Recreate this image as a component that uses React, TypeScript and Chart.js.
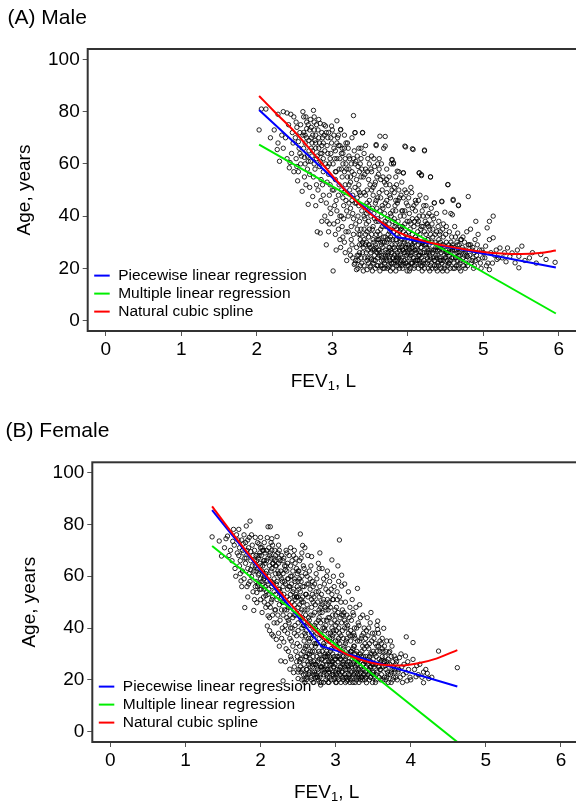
import React, { useEffect, useRef } from 'react';
import { Chart, registerables } from 'chart.js';
Chart.register(...registerables);

const FONT = '"Liberation Sans", Arial, Helvetica, sans-serif';

const xTicks = [0, 1, 2, 3, 4, 5, 6];
const yTicks = [0, 20, 40, 60, 80, 100];
const legendLabels = ['Piecewise linear regression', 'Multiple linear regression', 'Natural cubic spline'];
const lineColors = ['#0000ff', '#00ee00', '#ff0000'];
const panelTitles = ['(A) Male', '(B) Female'];
const yTitle = 'Age, years';

// Fitted curves (FEV1 L, age years)
const malePiecewise: [number, number][] = [[2.03, 80.6], [3.85, 32], [5.96, 20.3]];
const maleLinear: [number, number][] = [[2.03, 67.4], [5.96, 2.7]];
const maleSpline: [number, number][] = [
  [2.03, 86], [2.25, 79.5], [2.5, 72.3], [2.75, 64], [3.0, 55.5], [3.25, 47.5], [3.5, 41], [3.75, 35.7],
  [4.0, 32.3], [4.25, 30.2], [4.5, 28.6], [4.75, 27.3], [5.0, 26.3], [5.25, 25.7], [5.5, 25.5], [5.75, 25.9], [5.96, 26.8],
];
const femalePiecewise: [number, number][] = [[1.355, 85.5], [2.81, 33], [4.62, 17.4]];
const femaleLinear: [number, number][] = [[1.355, 71.7], [4.62, -4.0]];
const femaleSpline: [number, number][] = [
  [1.355, 87], [1.6, 77.5], [1.85, 68.3], [2.1, 59.5], [2.35, 51], [2.6, 42.8], [2.85, 35.8], [3.1, 30.6],
  [3.35, 27.6], [3.6, 25.9], [3.85, 25.5], [4.1, 26.4], [4.35, 28.3], [4.62, 31.5],
];

const malePoints: [number, number][] = [
  [2.03,73],[2.06,81],[2.12,81],[2.23,73],[2.28,79],[2.28,68],[2.27,65.5],[2.18,70],[2.3,61],
  [2.35,80],[2.40,79.5],[2.45,79],[2.49,78],[2.35,66],[2.43,58.5],[2.40,62],[2.46,64],[2.38,70],[2.47,72],[2.42,75],[2.48,68],[2.33,71],[2.44,60.5],[2.49,57],
  [2.51,70],[2.52,62],[2.53,74],[2.54,53.5],[2.55,57],[2.56,66],[2.57,72],[2.58,60],[2.59,63],[2.52,76],[2.55,68.5],[2.58,75],[2.6,49.5],[2.57,64],[2.53,59],
  [2.61,80],[2.62,72],[2.63,62.5],[2.64,68],[2.65,78],[2.66,70],[2.67,58],[2.68,44.5],[2.68,75],[2.69,65],[2.62,66],[2.64,60],[2.66,73.5],[2.67,63],[2.69,69],[2.63,55],[2.65,52],[2.61,71],[2.68,61],[2.7,56],
  [2.71,77],[2.72,70],[2.73,63],[2.74,47.5],[2.75,80.5],[2.76,73],[2.77,58],[2.78,66],[2.79,52],[2.71,61],[2.73,68],[2.75,55],[2.76,76],[2.78,71],[2.79,62],[2.72,74],[2.74,65],[2.77,69],[2.7,51],[2.8,34],[2.78,44],[2.76,60],[2.79,75],
  [2.81,73],[2.82,66],[2.83,59],[2.84,75.5],[2.85,54],[2.86,38],[2.87,70],[2.88,62],[2.89,75],[2.84,33.5],[2.81,50],[2.83,68],[2.85,46],[2.86,64],[2.88,57],[2.89,71],[2.82,77],[2.87,52],[2.9,40],[2.84,61],[2.86,72],[2.88,48],
  [2.91,74.5],[2.92,29],[2.93,67],[2.94,59],[2.95,34],[2.96,37],[2.97,52],[2.98,64],[2.99,74.5],[2.92,45],[2.94,70],[2.95,56],[2.96,48],[2.97,62],[2.98,41],[2.91,60],[2.93,53],[2.99,68],[3.0,50],[2.95,72],[2.97,43],[2.93,38],
  [3.01,19],[3.02,71],[3.03,62],[3.04,54],[3.05,46],[3.06,76.5],[3.07,38],[3.08,67],[3.09,58],[3.1,31],[3.02,50],[3.04,65],[3.05,27],[3.06,42],[3.07,70],[3.08,35],[3.09,52],[3.01,60],[3.03,44],[3.1,62],[3.05,57],[3.08,48],[3.04,33],[3.06,68],[3.1,40],[3.02,37],
  [3.11,73],[3.12,64],[3.13,55],[3.14,47],[3.15,39],[3.16,30],[3.17,26],[3.18,68],[3.19,58],[3.12,50],[3.13,36],[3.14,60],[3.15,44],[3.16,71],[3.17,52],[3.18,34],[3.19,42],[3.11,28],[3.13,66],[3.15,49],[3.17,62],[3.19,23],[3.2,55],[3.12,40],[3.16,57],[3.18,46],[3.14,32],
  [3.21,66],[3.22,58],[3.23,50],[3.24,43],[3.25,36],[3.26,29],[3.27,24],[3.28,78.5],[3.29,21.5],[3.3,72],[3.22,45],[3.23,62],[3.24,53],[3.25,31],[3.26,70],[3.27,48],[3.28,39],[3.29,56],[3.21,34],[3.23,27],[3.25,60],[3.27,41],[3.29,65],[3.22,52],[3.24,25],[3.26,46],[3.28,33],[3.3,51],[3.21,40],[3.3,22],
  [3.31,61],[3.32,54],[3.33,47],[3.34,40],[3.35,33],[3.36,26],[3.37,21],[3.38,66],[3.39,58],[3.4,72],[3.31,37],[3.32,28],[3.33,63],[3.34,50],[3.35,44],[3.36,57],[3.37,31],[3.38,24],[3.39,42],[3.31,23],[3.33,35],[3.35,52],[3.37,48],[3.39,29],[3.32,45],[3.34,20],[3.36,38],[3.38,55],[3.4,30],[3.35,66],[3.33,25],[3.37,60],
  [3.41,19],[3.42,64],[3.43,56],[3.44,48],[3.45,41],[3.46,34],[3.47,27],[3.48,22],[3.49,60],[3.5,52],[3.41,44],[3.42,31],[3.43,24],[3.44,58],[3.45,37],[3.46,50],[3.47,42],[3.48,29],[3.49,35],[3.41,55],[3.43,39],[3.45,26],[3.47,62],[3.49,46],[3.42,21],[3.44,33],[3.46,23],[3.48,54],[3.5,28],[3.44,67],[3.46,45],[3.48,38],[3.5,20.5],[3.42,49],
  [3.51,58],[3.52,50],[3.53,43],[3.54,36],[3.55,30],[3.56,25],[3.57,20],[3.58,67],[3.59,55],[3.6,47],[3.51,40],[3.52,33],[3.53,27],[3.54,22],[3.55,62],[3.56,52],[3.57,45],[3.58,38],[3.59,31],[3.6,24],[3.51,26],[3.53,35],[3.55,41],[3.57,29],[3.59,21],[3.52,57],[3.54,48],[3.56,39],[3.58,28],[3.6,34],[3.53,19],[3.55,23],[3.57,53],[3.59,43],[3.6,60],
  [3.61,56],[3.62,49],[3.63,42],[3.64,35],[3.65,29],[3.66,24],[3.67,20],[3.68,66],[3.69,53],[3.7,45],[3.61,38],[3.62,31],[3.63,26],[3.64,21],[3.65,60],[3.66,50],[3.67,43],[3.68,37],[3.69,30],[3.7,25],[3.61,27],[3.63,33],[3.65,40],[3.67,28],[3.69,22],[3.62,58],[3.64,47],[3.66,36],[3.68,23],[3.7,32],[3.63,19],[3.65,25],[3.67,55],[3.69,41],[3.7,70.5],[3.62,27],
  [3.71,52],[3.72,46],[3.73,39],[3.74,33],[3.75,28],[3.76,23],[3.77,19],[3.78,60],[3.79,50],[3.8,42],[3.71,36],[3.72,30],[3.73,25],[3.74,21],[3.75,55],[3.76,48],[3.77,41],[3.78,35],[3.79,29],[3.8,24],[3.71,26],[3.73,31],[3.75,37],[3.77,27],[3.79,22],[3.72,54],[3.74,44],[3.76,34],[3.78,22],[3.8,31],[3.73,20],[3.75,24],[3.77,47],[3.79,61.5],[3.8,38],[3.76,28],
  [3.81,60],[3.82,51],[3.83,44],[3.84,37],[3.85,31],[3.86,26],[3.87,21],[3.88,57],[3.89,47],[3.9,40],[3.81,34],[3.82,28],[3.83,23],[3.84,19],[3.85,52],[3.86,45],[3.87,38],[3.88,32],[3.89,27],[3.9,22],[3.81,24],[3.83,29],[3.85,35],[3.87,25],[3.89,20],[3.82,49],[3.84,42],[3.86,33],[3.88,24],[3.9,30],[3.83,36],[3.85,21],[3.87,46],[3.89,34],[3.84,27],
  [3.91,48],[3.92,42],[3.93,36],[3.94,56.5],[3.95,30],[3.96,26],[3.97,22],[3.98,45],[3.99,38],[4.0,32],[3.91,28],[3.92,24],[3.93,20],[3.94,34],[3.95,40],[3.96,50],[3.97,29],[3.98,25],[3.99,21],[4.0,44],[3.91,35],[3.93,27],[3.95,23],[3.97,33],[3.99,19],[3.92,31],[3.94,22],[3.96,37],[3.98,28],[4.0,26],[3.93,42],[3.97,66.5],
  [4.01,47],[4.02,41],[4.03,35],[4.04,30],[4.05,26],[4.06,22],[4.07,65.5],[4.08,44],[4.09,38],[4.1,32],[4.01,28],[4.02,24],[4.03,20],[4.04,37],[4.05,49],[4.06,33],[4.07,28],[4.08,24],[4.09,21],[4.1,42],[4.01,34],[4.03,26],[4.05,22],[4.07,31],[4.09,27],[4.02,19],[4.04,25],[4.06,39],[4.08,30],[4.1,23],
  [4.11,45],[4.12,39],[4.13,34],[4.14,29],[4.15,56.5],[4.16,25],[4.17,21],[4.18,55.5],[4.19,42],[4.2,36],[4.11,31],[4.12,27],[4.13,23],[4.14,20],[4.15,40],[4.16,33],[4.17,28],[4.18,24],[4.19,30],[4.2,26],[4.11,22],[4.13,37],[4.15,25],[4.17,35],[4.19,19],[4.14,46],[4.16,30],[4.2,22],[4.12,31],
  [4.21,44],[4.22,65],[4.23,38],[4.24,33],[4.25,28],[4.26,24],[4.27,20],[4.28,41],[4.29,35],[4.3,55],[4.21,30],[4.22,26],[4.23,22],[4.24,47],[4.25,37],[4.26,31],[4.27,27],[4.28,23],[4.29,19],[4.3,33],[4.22,34],[4.24,25],[4.26,40],[4.28,29],[4.3,21],[4.23,29],[4.27,36],
  [4.31,43],[4.32,37],[4.33,32],[4.34,27],[4.35,45],[4.36,23],[4.37,20],[4.38,34],[4.39,29],[4.4,25],[4.31,22],[4.32,30],[4.33,26],[4.34,39],[4.35,21],[4.36,33],[4.37,28],[4.38,24],[4.39,19],[4.4,36],[4.33,35],[4.36,27],[4.38,41],[4.4,22],
  [4.41,31],[4.42,27],[4.43,23],[4.44,20],[4.45,45.5],[4.46,35],[4.47,29],[4.48,25],[4.49,21],[4.5,33],[4.41,38],[4.42,24],[4.43,30],[4.44,26],[4.45,22],[4.46,19],[4.47,37],[4.48,28],[4.49,41.5],[4.5,24],[4.43,34],[4.47,23],
  [4.51,30],[4.52,26],[4.53,52],[4.54,22],[4.55,34],[4.56,28],[4.57,41],[4.58,24],[4.59,40.5],[4.6,20],[4.51,36],[4.53,21],[4.55,25],[4.57,30],[4.59,27],[4.52,19],[4.56,23],[4.6,46],[4.58,32],[4.54,29],
  [4.61,28],[4.62,36],[4.63,24],[4.64,21],[4.65,30],[4.66,33.5],[4.67,44],[4.68,26],[4.69,22],[4.7,31],[4.62,20],[4.64,27],[4.66,23],[4.68,29],[4.7,19],[4.63,32],[4.67,25],[4.71,31],
  [4.72,28],[4.73,24],[4.74,21],[4.75,30],[4.76,26],[4.77,23],[4.78,34],[4.79,24.5],[4.8,47.5],[4.74,27],[4.76,20],[4.78,25],[4.8,29],[4.73,32],[4.77,22],
  [4.81,29],[4.82,25],[4.83,29],[4.84,22],[4.85,27],[4.86,24],[4.87,20],[4.88,26],[4.89,31],[4.9,23],[4.83,35],[4.86,28],[4.88,21],[4.9,38],
  [4.91,25],[4.93,33],[4.93,23.5],[4.95,27],[4.96,22],[4.98,27],[4.99,24],[4.92,29],[4.97,20],[5.0,26],
  [5.03,28.5],[5.05,35.5],[5.08,38],[5.08,31],[5.08,19.5],[5.13,40],[5.13,31.7],[5.18,23.4],[5.02,24],[5.06,22],[5.1,26],[5.15,25],[5.12,22],[5.17,27],[5.04,21],[5.2,24],
  [5.22,27.8],[5.32,27.8],[5.38,25.9],[5.42,22.1],[5.47,24.6],[5.47,20.2],[5.51,28.5],[5.61,24],[5.76,25.3],[5.83,23.4],[5.95,22.3],[5.25,24],[5.3,22.5],[5.35,24.5],[5.28,26],[5.55,23],[5.45,27],[5.65,26],[5.7,22],
  [3.63,70.6],[3.58,67.4],[3.7,66.8],[3.96,66.8],[4.06,65.8],[4.22,65.3],[4.18,55.9],[4.15,56.6],[4.3,55],[4.53,52.1],[4.67,44.2],[4.6,46.4],[4.45,45.7],[4.35,45.1],[3.94,56.6],[3.86,57.2],[3.79,61.7],[3.81,60.4],[3.4,71.9],[3.3,71.9],[3.11,73.2],
  [3.32,19.5],[3.34,23],[3.36,29],[3.38,35],[3.4,26],[3.42,35],[3.44,29],[3.46,19.5],[3.48,32],[3.5,24],
  [3.52,23.5],[3.54,31],[3.56,27],[3.58,33],[3.6,21],[3.62,25],[3.64,30],[3.66,21],[3.68,32],[3.7,27],
  [3.72,23],[3.74,26],[3.76,31],[3.78,26],[3.8,20],[3.82,25],[3.84,31],[3.86,23],[3.88,28],[3.9,25],
  [3.92,21],[3.94,27],[3.96,31],[3.98,22],[4.0,29],[4.02,27],[4.04,22],[4.06,29],[4.08,20],[4.1,27],
  [4.12,23],[4.14,25],[4.16,22],[4.18,28],[4.2,30],[4.22,20],[4.24,29],[4.26,22],[4.28,26],[4.3,24],
  [4.32,20],[4.34,24],[4.36,30],[4.38,21],[4.4,28],[4.42,33],[4.44,23],[4.46,27],[4.48,20],[4.5,27],
  [4.52,23],[4.54,26],[4.56,20],[4.58,28],[4.6,24],[4.62,27],[4.64,24],[4.66,29],[4.68,20],[4.7,23],
  [3.35,25],[3.45,30],[3.55,27.5],[3.65,23],[3.75,20.5],[3.85,24],[3.95,26],[4.05,28],[4.15,23],[4.25,26],[4.35,23],[4.45,29],[4.55,22],[4.65,26],[4.75,25],[4.85,23],
  [3.37,33],[3.47,24],[3.57,23],[3.67,30],[3.77,32],[3.87,22],[3.97,28],[4.07,24],[4.17,26],[4.27,31],[4.37,25],[4.47,32],[4.57,26],[4.67,21],[4.77,27],
  [3.39,22],[3.49,29],[3.59,26],[3.69,20],[3.79,26],[3.89,29],[3.99,24],[4.09,30],[4.19,21],[4.29,25],[4.39,27],[4.49,24],[4.59,29],[4.69,25],[4.79,21],
  [3.41,28],[3.51,21],[3.61,31],[3.71,24],[3.81,22],[3.91,23],[4.01,21],[4.11,26],[4.21,23],[4.31,27],[4.41,21],[4.51,26],[4.61,22],[4.71,27],
  [3.3,45],[3.36,49],[3.42,40],[3.48,44],[3.54,51],[3.6,39],[3.66,44],[3.72,49],[3.78,40],[3.84,46],[3.9,36],[3.96,42],[4.02,38],[4.08,36],[4.14,38],[4.2,40],[4.26,37],[4.32,40],[3.58,46],[3.7,38],[3.82,39],[3.94,47],[4.06,43],[4.18,36],
  [2.62,78],[2.66,76],[2.7,73],[2.74,71],[2.78,68],[2.82,70],[2.86,67],[2.9,65],[2.94,64],[2.98,70],[3.02,66],[3.06,62],[3.1,67],[3.14,64],[3.18,60],[3.22,63],[3.26,57],[3.3,60],[2.72,66],[2.8,63],[2.88,68],[2.96,60],[3.04,57],[3.12,58],[3.2,68],[3.28,62],[2.64,71],[2.76,78],[2.84,64],[2.92,72],[3.0,73],[3.08,71],[3.16,66],[3.24,55],[3.34,59],[3.38,62],[3.46,57],[3.52,63],[3.56,59],[3.64,54],[3.62,62],[3.72,58],[3.76,52],[3.84,55],[3.88,50],[3.92,53],[3.98,49],[4.04,51],[4.1,46],[4.16,48],[4.24,44],
];

const femalePoints: [number, number][] = [
  [1.355,75.2],[1.45,73.6],[1.48,67.8],[1.54,74.5],[1.56,75.5],[1.64,78.1],[1.6,70],[1.62,66],[1.58,68],[1.65,72],[1.68,76],[1.66,63],[1.69,69],[1.67,60],[1.7,74],[1.52,71],[1.63,73.5],
  [1.71,78.1],[1.72,71],[1.73,66],[1.74,58.2],[1.75,74],[1.76,62],[1.77,69],[1.78,76],[1.79,47.9],[1.8,65],[1.71,68],[1.73,61],[1.75,56],[1.77,72.5],[1.79,67],[1.72,64],[1.76,70],[1.78,59],[1.8,73],
  [1.81,79.4],[1.82,70],[1.83,63],[1.84,57],[1.85,75],[1.86,81.3],[1.87,66],[1.88,60],[1.89,72],[1.9,54],[1.81,67],[1.83,74],[1.85,61],[1.87,69.5],[1.89,64],[1.82,56],[1.84,71],[1.86,58],[1.88,76],[1.9,68],[1.83,52],[1.87,62.5],
  [1.91,46.8],[1.92,70],[1.93,64],[1.94,58],[1.95,53.7],[1.95,49.8],[1.96,73],[1.97,67],[1.98,61],[1.99,55],[2.0,71],[1.91,62],[1.93,75],[1.95,66],[1.97,57],[1.99,69],[1.92,51],[1.94,68],[1.96,63],[1.98,72.5],[2.0,59],[1.93,56],[1.97,60.5],[1.99,65],
  [2.01,68],[2.02,62],[2.03,57],[2.04,52],[2.05,73],[2.06,65],[2.07,48],[2.08,70],[2.09,40.8],[2.1,44.7],[2.01,55],[2.02,71],[2.03,64],[2.04,59],[2.05,50],[2.06,69],[2.07,61],[2.08,54],[2.09,74.9],[2.1,79.1],[2.02,46],[2.04,66],[2.06,56],[2.08,62],[2.1,67],[2.03,70],[2.05,60],[2.07,52.5],[2.09,58],[2.1,53],
  [2.11,71],[2.12,64],[2.13,79.1],[2.14,58],[2.15,37.6],[2.15,74.5],[2.16,52],[2.17,36.9],[2.18,67],[2.19,47],[2.2,61],[2.11,55],[2.12,44],[2.13,69],[2.14,50],[2.15,63],[2.16,72],[2.17,57],[2.18,42],[2.19,66],[2.2,53],[2.11,60],[2.13,48],[2.15,56],[2.17,65],[2.19,70],[2.12,39],[2.14,67],[2.16,45],[2.18,59],[2.2,68],[2.14,73],
  [2.21,35.6],[2.22,75.3],[2.23,62],[2.24,55],[2.25,49],[2.26,43],[2.27,27.3],[2.28,68],[2.29,58],[2.3,19.6],[2.21,64],[2.22,51],[2.23,45],[2.24,38],[2.25,70],[2.26,60],[2.27,53],[2.28,47],[2.29,40],[2.3,66],[2.21,57],[2.23,69],[2.25,33],[2.27,62],[2.29,50],[2.22,42],[2.24,65],[2.26,54],[2.28,36],[2.3,56],[2.24,72],[2.28,59],[2.3,45],
  [2.31,34.6],[2.32,64],[2.33,57],[2.34,50],[2.35,44],[2.36,38],[2.37,31],[2.38,68],[2.39,24.1],[2.4,60],[2.31,53],[2.32,47],[2.33,41],[2.34,70],[2.35,62],[2.36,55],[2.37,48],[2.38,42],[2.39,36],[2.4,29],[2.31,67],[2.33,27],[2.35,52],[2.37,59],[2.39,45],[2.32,39],[2.34,32],[2.36,65],[2.38,51],[2.4,40],[2.33,62.5],[2.37,43],[2.39,56],[2.4,71],
  [2.41,57],[2.42,50],[2.43,44],[2.44,22.8],[2.45,38],[2.46,65],[2.47,31],[2.48,27],[2.49,61],[2.5,20.5],[2.41,35],[2.42,66],[2.43,54],[2.44,47],[2.45,59],[2.46,41],[2.47,53],[2.48,63],[2.49,34],[2.5,48],[2.41,28],[2.43,62],[2.45,25],[2.47,45],[2.49,56],[2.42,40],[2.44,68],[2.46,51],[2.48,37],[2.5,42],[2.43,33],[2.45,52],[2.47,67],[2.49,29],[2.5,58],
  [2.51,55],[2.52,49],[2.53,76.3],[2.54,43],[2.55,37],[2.56,71.9],[2.57,31],[2.58,26],[2.59,71],[2.6,22],[2.51,62],[2.52,33],[2.53,46],[2.54,58],[2.55,40],[2.56,52],[2.57,64],[2.58,35],[2.59,47],[2.6,29],[2.51,24],[2.53,28],[2.55,60],[2.57,50],[2.59,38],[2.52,66],[2.54,23],[2.56,44],[2.58,56],[2.6,61],[2.53,54],[2.55,20],[2.57,41],[2.59,32],[2.6,45],[2.54,67],
  [2.61,53],[2.62,47],[2.63,42],[2.64,36],[2.65,30],[2.66,25],[2.67,21],[2.68,67.6],[2.69,58],[2.7,50],[2.61,39],[2.62,33],[2.63,27],[2.64,22],[2.65,62],[2.66,55],[2.67,45],[2.68,38],[2.69,31],[2.7,26],[2.61,20],[2.62,60],[2.63,52],[2.64,44],[2.65,35],[2.66,28],[2.67,64],[2.68,48],[2.69,23],[2.7,40],[2.62,24],[2.64,57],[2.66,41],[2.68,33],[2.7,19],[2.63,68],[2.67,36],[2.69,53],[2.61,29],
  [2.71,52],[2.72,46],[2.73,40],[2.74,34],[2.75,29],[2.76,24],[2.77,20],[2.78,63],[2.79,56],[2.8,48],[2.71,37],[2.72,31],[2.73,26],[2.74,22],[2.75,59],[2.76,50],[2.77,43],[2.78,36],[2.79,30],[2.8,25],[2.71,19],[2.72,57],[2.73,49],[2.74,42],[2.75,34],[2.76,27],[2.77,65],[2.78,44],[2.79,21],[2.8,38],[2.72,23],[2.74,61],[2.76,39],[2.78,28],[2.8,18],[2.73,33],[2.77,54],[2.79,46],[2.71,27],[2.75,21],[2.79,69],
  [2.81,53],[2.82,46],[2.83,40],[2.84,34],[2.85,29],[2.86,24],[2.87,20],[2.88,60],[2.89,51],[2.9,44],[2.81,37],[2.82,31],[2.83,26],[2.84,22],[2.85,57],[2.86,48],[2.87,41],[2.88,35],[2.89,29],[2.9,24],[2.81,19],[2.82,63],[2.83,50],[2.84,43],[2.85,36],[2.86,30],[2.87,55],[2.88,26],[2.89,21],[2.9,38],[2.82,25],[2.84,59],[2.86,39],[2.88,31],[2.9,19],[2.83,33],[2.87,47],[2.89,62],[2.81,28],[2.85,23],[2.9,54],
  [2.91,50],[2.92,44],[2.93,38],[2.94,32],[2.95,66.3],[2.96,27],[2.97,22],[2.98,56],[2.99,47],[3.0,41],[2.91,35],[2.92,29],[2.93,24],[2.94,20],[2.95,53],[2.96,45],[2.97,39],[2.98,33],[2.99,28],[3.0,23],[2.91,19],[2.92,58],[2.93,48],[2.94,42],[2.95,36],[2.96,30],[2.97,60],[2.98,25],[2.99,21],[3.0,35],[2.92,26],[2.94,55],[2.96,37],[2.98,29],[3.0,19],[2.93,31],[2.97,51],[2.99,43],[2.91,23],[2.95,26],
  [3.01,48],[3.02,42],[3.03,64],[3.04,36],[3.05,74],[3.06,30],[3.07,25],[3.08,60.4],[3.08,56.2],[3.09,21],[3.1,45],[3.01,39],[3.02,33],[3.03,27],[3.04,23],[3.05,52],[3.06,44],[3.07,37],[3.08,31],[3.09,26],[3.1,20],[3.01,19],[3.02,54],[3.03,46],[3.04,40],[3.05,34],[3.06,28],[3.07,50],[3.09,39],[3.1,32],[3.02,24],[3.04,58],[3.06,22],[3.08,42],[3.1,27],[3.03,35],[3.07,19],[3.05,29],[3.09,47],
  [3.11,46],[3.12,40],[3.13,34],[3.14,29],[3.15,24],[3.16,20],[3.17,54],[3.18,44],[3.19,37],[3.2,31],[3.11,26],[3.12,22],[3.13,50],[3.14,42],[3.15,36],[3.16,30],[3.17,25],[3.18,21],[3.19,48],[3.2,26],[3.11,33],[3.13,19],[3.15,45],[3.17,38],[3.19,22],[3.12,57],[3.14,35],[3.16,41],[3.18,27],[3.2,39],[3.13,28],[3.17,32],[3.19,30],[3.15,19.5],
  [3.21,43],[3.22,37],[3.23,32],[3.24,27],[3.25,23],[3.26,19],[3.27,48],[3.28,40],[3.29,55.3],[3.3,29],[3.21,25],[3.22,21],[3.23,46],[3.24,38],[3.25,33],[3.26,28],[3.27,24],[3.28,20],[3.29,35],[3.3,42],[3.21,31],[3.23,19],[3.25,40],[3.27,30],[3.29,22],[3.22,51],[3.24,33],[3.26,36],[3.28,26],[3.3,21],[3.24,45],[3.28,31],
  [3.31,41],[3.32,35],[3.33,30],[3.34,25],[3.35,21],[3.36,45],[3.37,38],[3.38,32],[3.39,27],[3.4,23],[3.31,19],[3.32,28],[3.33,44],[3.34,36],[3.35,31],[3.36,26],[3.37,22],[3.38,40],[3.39,34],[3.4,29],[3.31,24],[3.33,20],[3.35,37],[3.37,29],[3.39,20],[3.32,49],[3.36,33],[3.38,24],[3.4,36],[3.34,21],
  [3.41,39],[3.42,33],[3.43,28],[3.44,24],[3.45,20],[3.46,42],[3.47,46],[3.48,30],[3.49,26],[3.5,22],[3.41,18.9],[3.42,27],[3.43,37],[3.44,32],[3.45,29],[3.46,25],[3.47,21],[3.48,35],[3.49,38],[3.5,31],[3.43,22],[3.45,34],[3.47,27],[3.49,19],[3.44,40],[3.46,21],[3.5,26],[3.42,44],
  [3.51,36],[3.52,30],[3.53,26],[3.54,22],[3.55,41],[3.56,42.7],[3.56,39.5],[3.57,33],[3.58,28],[3.59,24],[3.6,20],[3.51,25],[3.52,21],[3.53,34],[3.54,29],[3.55,23],[3.57,38],[3.58,21],[3.59,31],[3.6,27],[3.53,19],[3.55,31],[3.57,25],[3.59,35],[3.52,38],
  [3.61,34],[3.62,29],[3.63,25],[3.64,39.9],[3.65,21],[3.66,25.4],[3.67,31],[3.68,27],[3.69,23],[3.7,19],[3.61,22],[3.62,36],[3.63,31],[3.64,27],[3.65,33],[3.66,29],[3.67,20],[3.68,35],[3.69,26],[3.71,30.5],[3.63,20],[3.67,24],[3.7,28],[3.61,27.5],
  [3.72,26],[3.73,22],[3.74,29],[3.75,33],[3.76,20],[3.77,25],[3.78,29.2],[3.79,23],[3.8,21],[3.72,31],[3.74,19],[3.76,27],[3.78,24],[3.8,26],[3.73,35],[3.77,21],[3.75,24],
  [3.81,27],[3.83,23],[3.85,28.6],[3.86,21],[3.88,25],[3.9,22],[3.93,29.2],[3.94,36.6],[3.94,22.8],[3.95,19.6],[3.82,20],[3.87,30],[3.91,26],[3.97,24],[3.99,21],[3.84,24],[3.89,19],[3.96,27],
  [4.03,34.4],[4.03,27.9],[4.07,21.2],[4.17,23],[4.17,18.9],[4.24,20.5],[4.37,31.1],[4.62,24.7],[4.05,24],[4.1,22],[4.12,26],[4.2,24],[4.15,21],[4.0,20],[4.08,25.5],[4.22,22.5],[4.28,21],
  [2.5,23],[2.52,27],[2.54,30],[2.56,24],[2.58,20],[2.6,33],[2.62,21],[2.64,26],[2.66,31],[2.68,20],[2.7,29],[2.72,34],[2.74,26],[2.76,21],[2.78,31],[2.8,22],[2.82,28],[2.84,19],[2.86,27],[2.88,22],[2.9,30],[2.92,21],[2.94,27],[2.96,23],[2.98,20],[3.0,28],[3.02,29],[3.04,20],[3.06,25],[3.08,23],[3.1,29],[3.12,25],[3.14,21],[3.16,27],[3.18,24],[3.2,20],[3.22,28],[3.24,22],[3.26,25],[3.28,23],[3.3,26],[3.32,22],[3.34,29],[3.36,20],[3.38,28],[3.4,21],
  [2.55,28],[2.65,23],[2.75,25],[2.85,33],[2.95,22],[3.05,24],[3.15,26],[3.25,30],[3.35,24],[3.45,23],
  [2.57,22],[2.67,27],[2.77,23],[2.87,29],[2.97,25],[3.07,28],[3.17,22],[3.27,21],[3.37,26],[3.47,25],
  [2.53,25],[2.63,30],[2.73,21],[2.83,24],[2.93,28],[3.03,21],[3.13,24],[3.23,26],[3.33,23],[3.43,26],
  [2.59,19],[2.69,25],[2.79,19],[2.89,24],[2.99,26],[3.09,23],[3.19,19],[3.29,27],[3.39,22],[3.49,23],
  [2.61,24],[2.71,22],[2.81,25],[2.91,27],[3.01,22],[3.11,21],[3.21,23],[3.31,28],[3.41,25],[3.51,23],
  [2.45,45],[2.5,39],[2.55,50],[2.6,37],[2.65,43],[2.7,45],[2.75,38],[2.8,42],[2.85,40],[2.9,47],[2.95,40],[3.0,45],[3.05,38],[3.1,36],[3.15,40],[3.2,35],[3.25,37],[2.62,49],[2.72,41],[2.82,49],[2.92,36],[3.02,51],[3.12,43],[2.48,52],[2.58,41],[2.68,51],[2.78,47],[2.88,43],[2.98,38],[3.08,45],
  [1.92,66],[1.94,62],[1.96,56],[1.98,68],[2.0,64],[2.02,58],[2.04,70],[2.06,60],[2.08,66],[2.1,57],[2.12,68],[2.14,62],[2.16,65],[2.18,54],[2.2,64],[2.22,58],[2.24,61],[2.26,66],[2.28,52],[2.3,61],[2.32,58],[2.34,64],[2.36,59],[2.38,56],[2.4,64],[2.42,60],[2.44,55],[2.46,58],[2.48,52],[2.5,62],[2.52,59],[2.54,51],[2.56,56],[2.58,63],[2.6,53],
  [2.0,51],[2.05,55],[2.1,49],[2.15,51],[2.2,47],[2.25,55],[2.3,50],[2.35,47],[2.4,53],[2.45,49],[2.5,52],[2.55,47],[2.62,57],[2.66,59],[2.7,56],[2.74,54],[2.78,52],[2.84,51],[2.9,49],[2.96,51],[2.0,75],[2.05,66],[2.15,70],[2.25,67],[2.35,69],[2.45,70],[2.55,69],
  [3.5,28],[3.55,33],[3.6,24],[3.65,27],[3.7,22],[3.54,20],[3.62,32],[3.68,21],[3.58,25],[3.46,30],[3.74,23],[3.8,28],
];

type Pair = [number, number];
const toXY = (arr: Pair[]) => arr.map(([x, y]) => ({ x, y }));

interface PanelSpec {
  title: string;
  points: Pair[];
  piecewise: Pair[];
  linear: Pair[];
  spline: Pair[];
  top: number;
  height: number;
  area: { left: number; right: number; top: number; bottom: number };
  titleX: number;
  titleY: number;
  yTitleOffset: number;
}

const CANVAS_W = 600;

const decorPlugin = {
  id: 'decor',
  afterDraw(chart: any, _args: any, opts: any) {
    const { ctx, chartArea: a, scales } = chart;
    const xs = scales.x;
    ctx.save();
    ctx.strokeStyle = '#333';
    ctx.lineWidth = 2;
    ctx.strokeRect(a.left, a.top, a.right - a.left, a.bottom - a.top);
    ctx.fillStyle = '#000';
    ctx.font = `21px ${FONT}`;
    ctx.textAlign = 'left';
    ctx.textBaseline = 'middle';
    ctx.fillText(opts.title, opts.titleX, opts.titleY);
    ctx.save();
    ctx.translate(a.left - opts.yTitleOffset, (a.top + a.bottom) / 2);
    ctx.rotate(-Math.PI / 2);
    ctx.textAlign = 'center';
    ctx.font = `19px ${FONT}`;
    ctx.fillText(yTitle, 0, 0);
    ctx.restore();
    const ty = a.bottom + 51;
    ctx.font = `19px ${FONT}`;
    ctx.textAlign = 'left';
    const w1 = ctx.measureText('FEV').width;
    ctx.font = `13px ${FONT}`;
    const w2 = ctx.measureText('1').width;
    ctx.font = `19px ${FONT}`;
    const w3 = ctx.measureText(', L').width;
    const total = w1 + w2 + w3;
    const x0 = xs.getPixelForValue(3) - 9 - total / 2;
    ctx.fillText('FEV', x0, ty);
    ctx.font = `13px ${FONT}`;
    ctx.fillText('1', x0 + w1, ty + 4);
    ctx.font = `19px ${FONT}`;
    ctx.fillText(', L', x0 + w1 + w2, ty);
    const rows = [-55.4, -37.4, -19.4];
    ctx.font = `15.5px ${FONT}`;
    ctx.lineWidth = 2;
    legendLabels.forEach((lab, i) => {
      const y = a.bottom + rows[i];
      ctx.strokeStyle = lineColors[i];
      ctx.beginPath();
      ctx.moveTo(a.left + 6.5, y);
      ctx.lineTo(a.left + 22, y);
      ctx.stroke();
      ctx.fillStyle = '#000';
      ctx.fillText(lab, a.left + 30.5, y);
    });
    ctx.restore();
  },
};

function Panel({ spec }: { spec: PanelSpec }) {
  const ref = useRef<HTMLCanvasElement | null>(null);
  useEffect(() => {
    if (!ref.current) return;
    const { area, height } = spec;
    const lineDs = (data: Pair[], color: string, order: number, smooth: boolean) => ({
      data: toXY(data),
      showLine: true,
      borderColor: color,
      borderWidth: 2,
      pointRadius: 0,
      tension: smooth ? 0.4 : 0,
      cubicInterpolationMode: smooth ? ('monotone' as const) : ('default' as const),
      fill: false,
      order,
    });
    const chart = new Chart(ref.current, {
      type: 'scatter',
      data: {
        datasets: [
          {
            data: toXY(spec.points),
            pointRadius: 2.2,
            pointBorderWidth: 1,
            borderColor: 'rgba(0,0,0,0.85)',
            backgroundColor: 'rgba(0,0,0,0)',
            pointBackgroundColor: 'rgba(0,0,0,0)',
            pointBorderColor: 'rgba(0,0,0,0.85)',
            order: 4,
          } as any,
          lineDs(spec.piecewise, lineColors[0], 3, false),
          lineDs(spec.linear, lineColors[1], 2, false),
          lineDs(spec.spline, lineColors[2], 1, true),
        ],
      },
      options: {
        responsive: false,
        animation: false,
        events: [],
        devicePixelRatio: 1,
        layout: {
          padding: { left: 0, top: area.top, right: CANVAS_W - area.right, bottom: 0 },
        },
        plugins: {
          legend: { display: false },
          tooltip: { enabled: false },
          decor: {
            title: spec.title,
            titleX: spec.titleX,
            titleY: spec.titleY,
            yTitleOffset: spec.yTitleOffset,
          },
        } as any,
        scales: {
          x: {
            type: 'linear',
            min: -0.24,
            max: 6.24,
            afterBuildTicks: (s: any) => {
              s.ticks = xTicks.map((v) => ({ value: v }));
            },
            afterFit: (s: any) => {
              s.height = height - area.bottom;
            },
            grid: { drawOnChartArea: false, drawTicks: true, tickLength: 5, color: '#555', lineWidth: 1 },
            border: { display: false },
            ticks: { color: '#000', font: { family: FONT, size: 19 }, padding: 2, maxRotation: 0, autoSkip: false },
            title: { display: false },
          },
          y: {
            type: 'linear',
            min: -4,
            max: 104,
            afterBuildTicks: (s: any) => {
              s.ticks = yTicks.map((v) => ({ value: v }));
            },
            afterFit: (s: any) => {
              s.width = area.left;
            },
            grid: { drawOnChartArea: false, drawTicks: true, tickLength: 5, color: '#555', lineWidth: 1 },
            border: { display: false },
            ticks: { color: '#000', font: { family: FONT, size: 19 }, padding: 3, autoSkip: false },
            title: { display: false },
          },
        },
      },
      plugins: [decorPlugin],
    } as any);
    return () => chart.destroy();
  }, [spec]);
  return (
    <canvas
      ref={ref}
      width={CANVAS_W}
      height={spec.height}
      style={{ position: 'absolute', left: 0, top: spec.top, width: CANVAS_W, height: spec.height }}
    />
  );
}

const panels: PanelSpec[] = [
  {
    title: panelTitles[0],
    points: malePoints,
    piecewise: malePiecewise,
    linear: maleLinear,
    spline: maleSpline,
    top: 0,
    height: 404,
    area: { left: 87.7, right: 577, top: 49, bottom: 331 },
    titleX: 7.5,
    titleY: 18,
    yTitleOffset: 63,
  },
  {
    title: panelTitles[1],
    points: femalePoints,
    piecewise: femalePiecewise,
    linear: femaleLinear,
    spline: femaleSpline,
    top: 404,
    height: 405,
    area: { left: 92.3, right: 579, top: 58.3, bottom: 338 },
    titleX: 5.5,
    titleY: 27,
    yTitleOffset: 63,
  },
];

export default function App() {
  return (
    <div
      style={{
        position: 'fixed',
        left: 0,
        top: 0,
        width: 576,
        height: 809,
        overflow: 'hidden',
        background: '#fff',
      }}
    >
      {panels.map((p) => (
        <Panel key={p.title} spec={p} />
      ))}
    </div>
  );
}
